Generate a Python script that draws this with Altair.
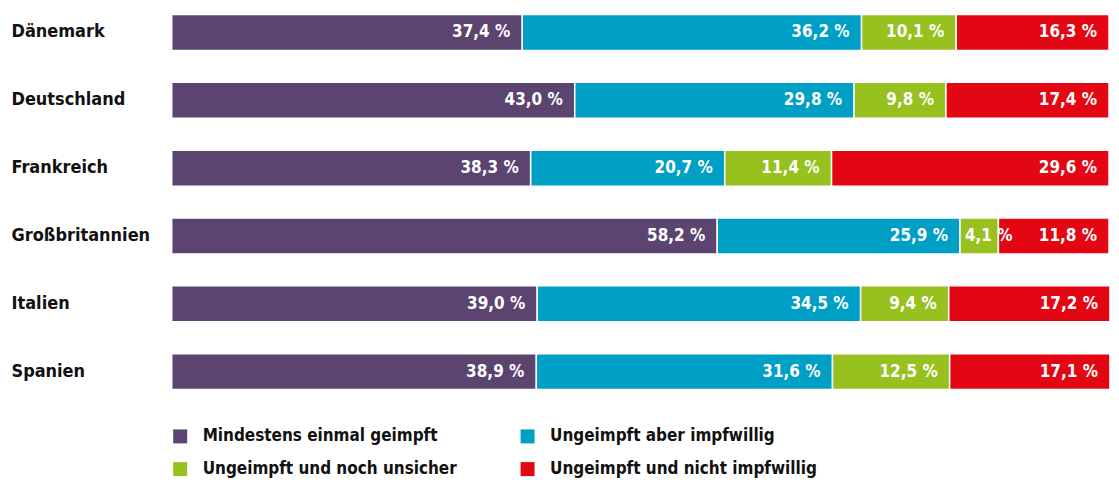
import altair as alt
import pandas as pd

countries = ["Dänemark", "Deutschland", "Frankreich", "Großbritannien", "Italien", "Spanien"]
categories = ["Mindestens einmal geimpft", "Ungeimpft aber impfwillig",
              "Ungeimpft und noch unsicher", "Ungeimpft und nicht impfwillig"]
colors = ["#5B4570", "#009FC6", "#97C11F", "#E30613"]

geimpft = [37.4, 43.0, 38.3, 58.2, 39.0, 38.9]
impfwillig = [36.2, 29.8, 20.7, 25.9, 34.5, 31.6]
unsicher = [10.1, 9.8, 11.4, 4.1, 9.4, 12.5]
nicht = [16.3, 17.4, 29.6, 11.8, 17.2, 17.1]

series = [geimpft, impfwillig, unsicher, nicht]
rows = []
for ci, c in enumerate(countries):
    start = 0.0
    for k, cat in enumerate(categories):
        v = series[k][ci]
        rows.append({"country": c, "cat": cat, "order": k, "value": v,
                     "start": start, "end": start + v,
                     "small": v < 5,
                     "label": f"{v:.1f} %".replace(".", ",")})
        start += v
df = pd.DataFrame(rows)

# legend order (filled column by column)
legend_order = [categories[0], categories[2], categories[1], categories[3]]
legend_colors = [colors[0], colors[2], colors[1], colors[3]]

FONT = "Liberation Sans Narrow, DejaVu Sans Condensed, sans-serif"

xscale = alt.Scale(domain=[0, 100], nice=False)

y = alt.Y("country:N", sort=countries, title=None,
          scale=alt.Scale(paddingInner=0.47, paddingOuter=0.09),
          axis=alt.Axis(domain=False, ticks=False, labelAlign="left", labelPadding=161,
                        labelFont=FONT, labelFontSize=18, labelFontWeight="bold",
                        labelColor="#111111"))

bars = alt.Chart(df).mark_bar(stroke="white", strokeWidth=1.5).encode(
    x=alt.X("start:Q", scale=xscale, axis=None),
    x2="end:Q",
    y=y,
    color=alt.Color("cat:N",
                    scale=alt.Scale(domain=legend_order, range=legend_colors),
                    legend=alt.Legend(title=None, orient="none", legendX=0, legendY=420,
                                      columns=2, columnPadding=62, rowPadding=15,
                                      symbolType="square", symbolSize=196,
                                      symbolStrokeWidth=0, symbolOpacity=1,
                                      labelFont=FONT, labelFontSize=17,
                                      labelFontWeight="bold", labelColor="#111111",
                                      labelOffset=14, labelLimit=400)),
)

text_big = alt.Chart(df).transform_filter("!datum.small").mark_text(
    align="right", dx=-12, color="white", font=FONT,
    fontSize=17, fontWeight="bold", baseline="middle").encode(
    x=alt.X("end:Q", scale=xscale, axis=None),
    y=y,
    text="label:N",
)

text_small = alt.Chart(df).transform_filter("datum.small").mark_text(
    align="left", dx=5, color="white", font=FONT,
    fontSize=17, fontWeight="bold", baseline="middle").encode(
    x=alt.X("start:Q", scale=xscale, axis=None),
    y=y,
    text="label:N",
)

chart = (bars + text_big + text_small).properties(
    width=939, height=388,
    padding={"left": 3, "top": 0, "right": 0, "bottom": 0},
).configure(font=FONT).configure_view(stroke=None)

chart.save("out.html", embed_options={"renderer": "svg", "actions": False})
